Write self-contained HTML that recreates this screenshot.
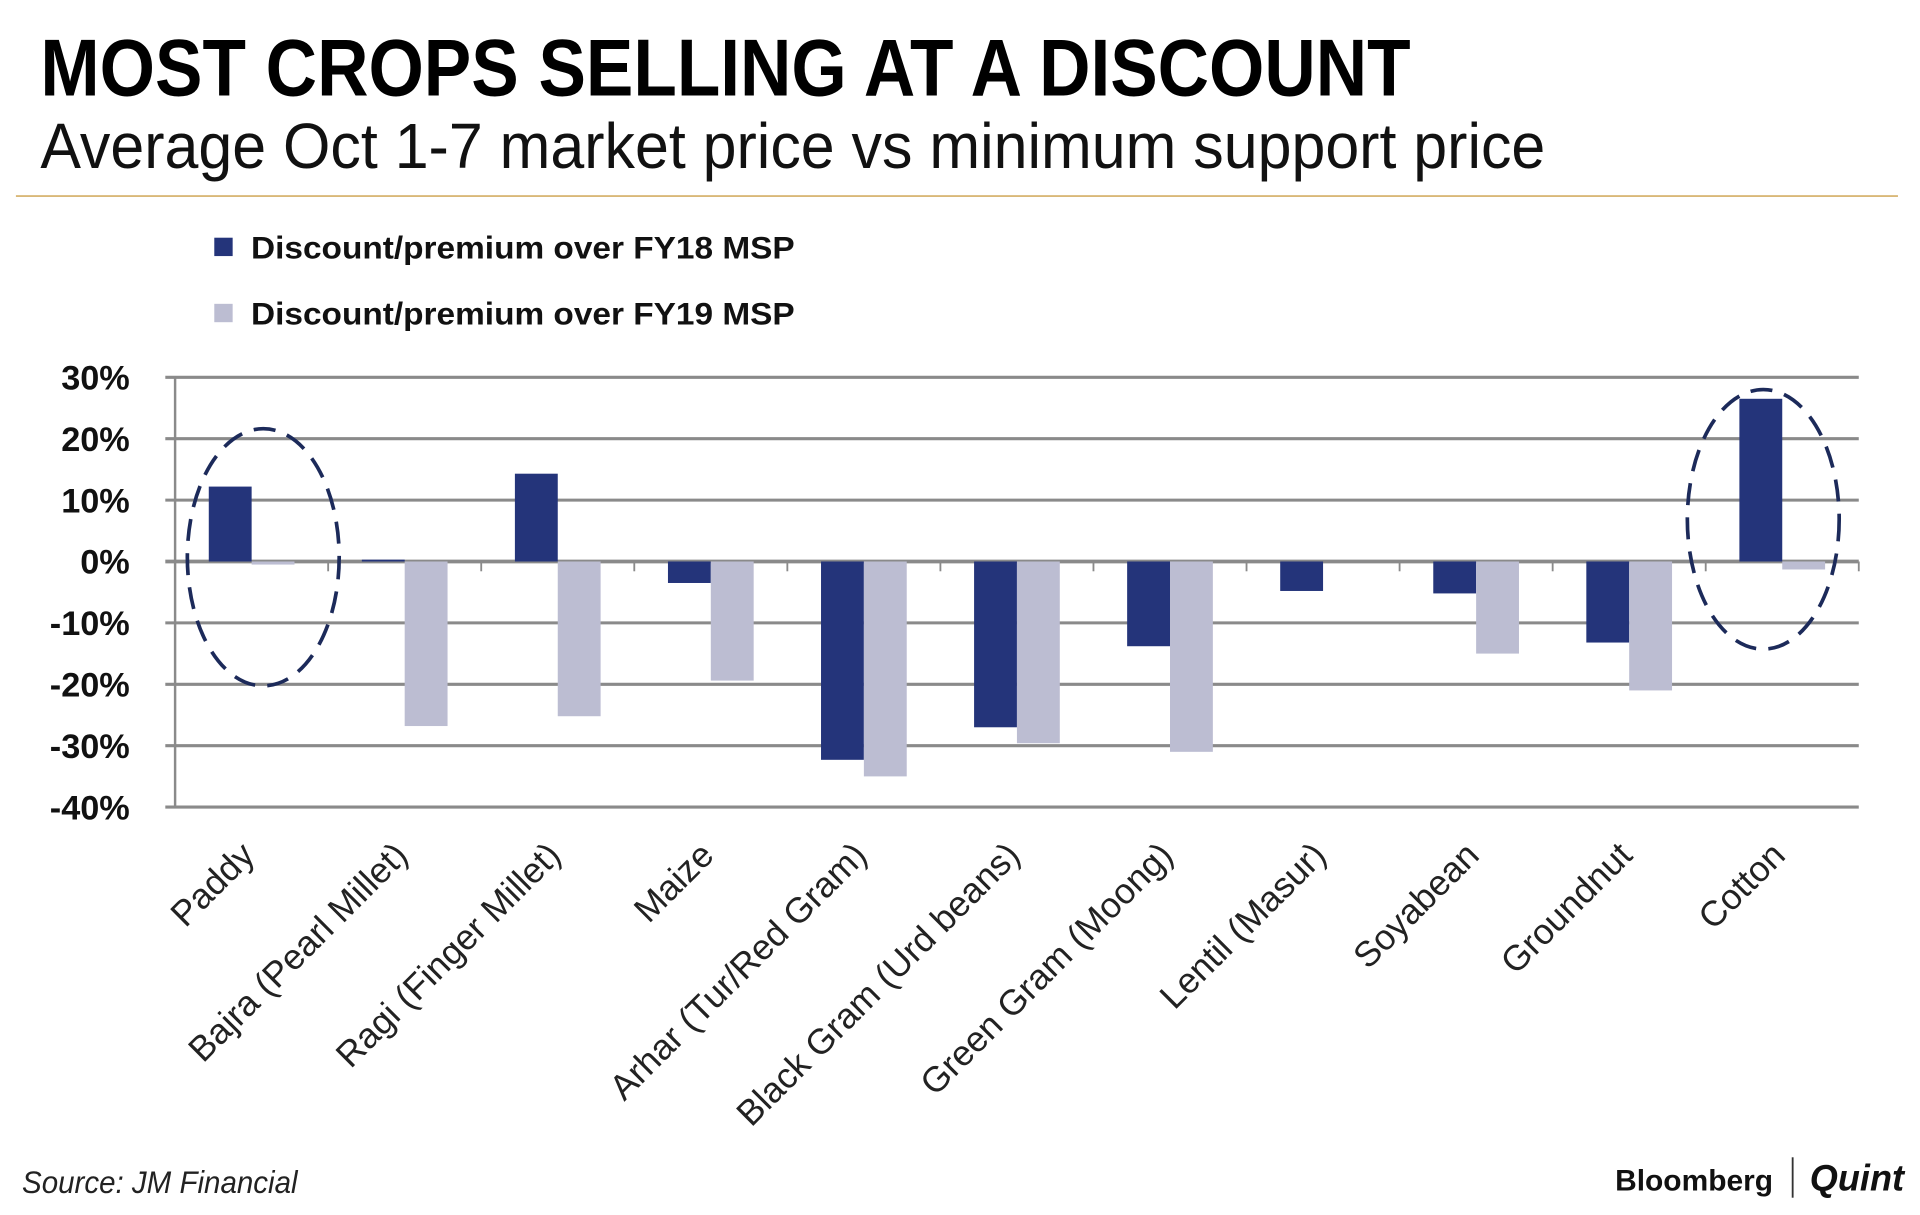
<!DOCTYPE html>
<html><head><meta charset="utf-8"><style>
html,body{margin:0;padding:0;background:#fff}
svg{display:block}
text{font-family:"Liberation Sans",sans-serif}
</style></head><body>
<svg id="chart" width="1920" height="1215" viewBox="0 0 1568 992" xmlns="http://www.w3.org/2000/svg">
<rect width="1568" height="992" fill="#fff"/>
<text x="33" y="78" font-family="Liberation Sans Narrow, Liberation Sans, sans-serif" font-weight="bold" font-size="66" textLength="1119" lengthAdjust="spacingAndGlyphs" fill="#000">MOST CROPS SELLING AT A DISCOUNT</text>
<text x="33" y="137" font-family="Liberation Sans Narrow, Liberation Sans, sans-serif" font-size="52" textLength="1229" lengthAdjust="spacingAndGlyphs" fill="#111">Average Oct 1-7 market price vs minimum support price</text>
<line x1="13" y1="160" x2="1550" y2="160" stroke="#d9b878" stroke-width="1.5"/>
<rect x="175" y="194" width="15" height="15" fill="#24347a"/>
<text x="205" y="211" font-weight="bold" font-size="26" textLength="444" lengthAdjust="spacingAndGlyphs" fill="#111">Discount/premium over FY18 MSP</text>
<rect x="175" y="248" width="15" height="15" fill="#bcbdd2"/>
<text x="205" y="265" font-weight="bold" font-size="26" textLength="444" lengthAdjust="spacingAndGlyphs" fill="#111">Discount/premium over FY19 MSP</text>
<g id="plot"></g>
<ellipse cx="215" cy="455" rx="62" ry="105" fill="none" stroke="#1c2a5a" stroke-width="3" stroke-dasharray="18 10"/>
<ellipse cx="1440" cy="424" rx="62" ry="106" fill="none" stroke="#1c2a5a" stroke-width="3" stroke-dasharray="18 10"/>
<text x="18" y="974" font-style="italic" font-size="26" textLength="225" lengthAdjust="spacingAndGlyphs" fill="#222">Source: JM Financial</text>
<text x="1319" y="972" font-weight="bold" font-size="24" textLength="129" lengthAdjust="spacingAndGlyphs" fill="#111">Bloomberg</text>
<line x1="1464" y1="945" x2="1464" y2="978" stroke="#333" stroke-width="1.5"/>
<text x="1478" y="972" font-family="Liberation Serif, serif" font-weight="bold" font-style="italic" font-size="30" textLength="77" lengthAdjust="spacingAndGlyphs" fill="#111">Quint</text>
</svg>
<script>
const categories = ["Paddy","Bajra (Pearl Millet)","Ragi (Finger Millet)","Maize","Arhar (Tur/Red Gram)","Black Gram (Urd beans)","Green Gram (Moong)","Lentil (Masur)","Soyabean","Groundnut","Cotton"];
const fy18 = [12.2, 0.3, 14.3, -3.5, -32.3, -27.0, -13.8, -4.8, -5.2, -13.2, 26.5];
const fy19 = [-0.5, -26.8, -25.2, -19.4, -35.0, -29.6, -31.0, 0, -15.0, -21.0, -1.3];
const yTicks = [30, 20, 10, 0, -10, -20, -30, -40];
const yTickLabels = ["30%","20%","10%","0%","-10%","-20%","-30%","-40%"];

const NS = "http://www.w3.org/2000/svg";
const plot = document.getElementById("plot");
const X0 = 143, X1 = 1518, Y30 = 308, Y40 = 659;
const yScale = v => Y30 + (30 - v) * (Y40 - Y30) / 70;
const band = (X1 - X0) / categories.length;
const xCenter = i => X0 + band * (i + 0.5);
const barW = 35;
function mk(tag, attrs){const e=document.createElementNS(NS,tag);for(const k in attrs)e.setAttribute(k,attrs[k]);plot.appendChild(e);return e;}

yTicks.forEach((t,i)=>{
  const y = yScale(t);
  const g = mk("line",{x1:X0-8,x2:X1,y1:y,y2:y,stroke:"#8a8a8a","stroke-width":t===0?3:2.5});
  
  
  const lb = mk("text",{x:106,y:y+10,"text-anchor":"end","font-weight":"bold","font-size":"28",fill:"#111"});
  lb.textContent = yTickLabels[i];
  
  
});
const ax = mk("line",{x1:X0,x2:X0,y1:Y30,y2:Y40,stroke:"#8a8a8a","stroke-width":2});


for(let i=1;i<=categories.length;i++){
  const x = X0 + band*i;
  const tk = mk("line",{x1:x,x2:x,y1:yScale(0),y2:yScale(0)+8,stroke:"#8a8a8a","stroke-width":1.5});
  
  
}
categories.forEach((c,i)=>{
  const cx = xCenter(i);
  [[fy18[i],"#24347a",cx-barW,"bar-fy18"],[fy19[i],"#bcbdd2",cx,"bar-fy19"]].forEach(([v,col,x,name])=>{
    const y0 = yScale(0), yv = yScale(v);
    const r = mk("rect",{x:x,y:Math.min(y0,yv),width:barW,height:Math.max(Math.abs(yv-y0),0),fill:col});
    
    
  });
  const tx = cx + 4, ty = 700;
  const t = mk("text",{x:tx,y:ty,"text-anchor":"end","font-size":"29",fill:"#222",transform:`rotate(-45 ${tx} ${ty})`});
  t.textContent = c;
  
  
});
</script>
</body></html>
